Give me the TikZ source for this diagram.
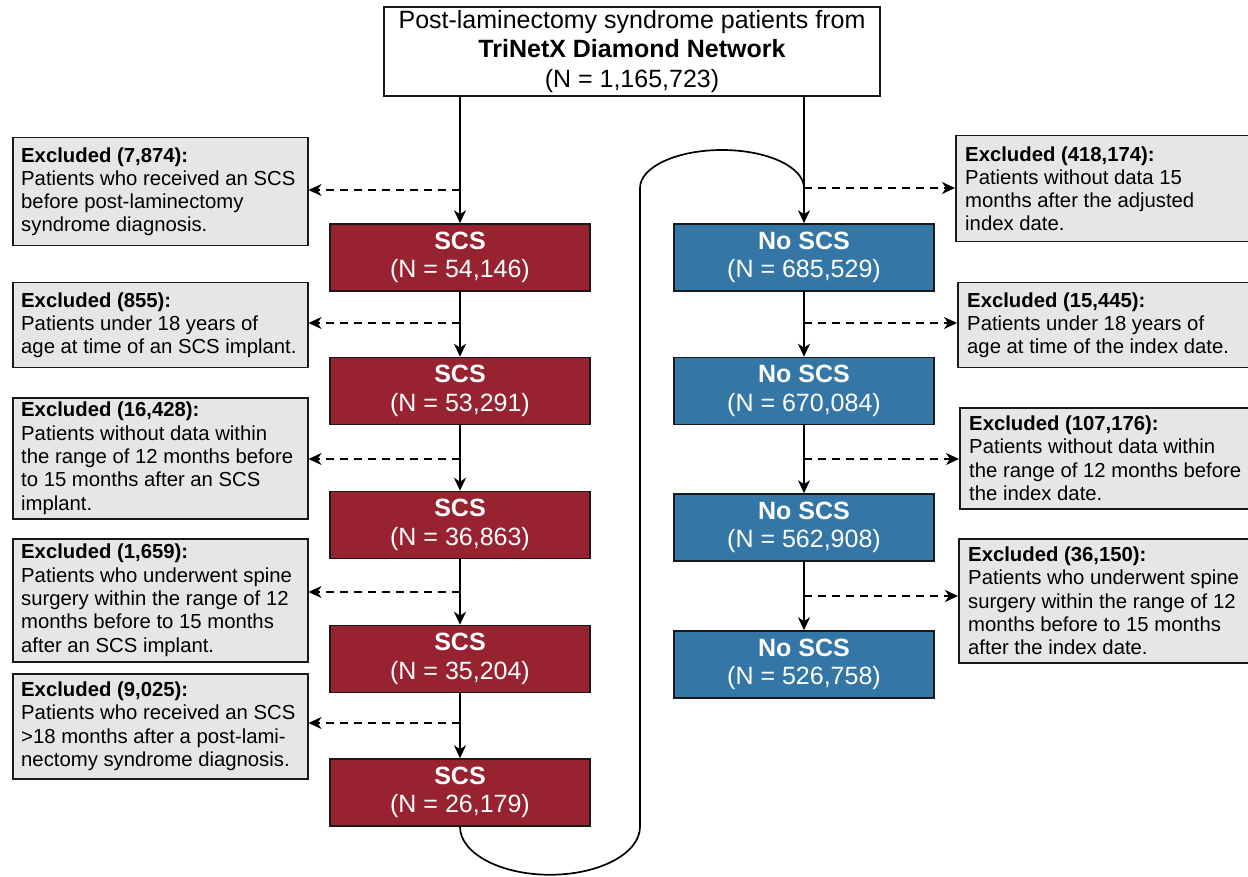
\documentclass[tikz,border=0pt]{standalone}
\usepackage{fontspec}
\setmainfont{Liberation Sans}
\usetikzlibrary{arrows.meta}
\definecolor{scsred}{RGB}{152,35,48}
\definecolor{noblue}{RGB}{52,118,166}
\definecolor{exgray}{RGB}{230,230,230}
\definecolor{bordc}{RGB}{25,25,25}
\begin{document}
\begin{tikzpicture}[x=1pt,y=-1pt,
 topbox/.style={draw=bordc, line width=1.8pt, fill=white, minimum width=496, minimum height=89, inner sep=0, align=center, font=\fontsize{25}{29.5}\selectfont},
 scsbox/.style={draw=bordc, line width=1.5pt, fill=scsred, text=white, minimum width=260, minimum height=67, inner sep=0, align=center, font=\fontsize{25}{28.5}\selectfont},
 nobox/.style={scsbox, fill=noblue},
 exbox/.style={draw=bordc, line width=1.5pt, fill=exgray, inner sep=0, anchor=north west},
 extext/.style={anchor=west, align=left, inner sep=0, font=\fontsize{20.3}{23.3}\selectfont},
 flow/.style={line width=1.7pt, draw=black, -{Stealth[length=13pt,width=12pt,inset=4pt]}},
 dasharrow/.style={line width=1.7pt, draw=black, dash pattern=on 8pt off 6pt, -{Stealth[length=13pt,width=12pt,inset=4pt]}},
 loopline/.style={line width=1.7pt, draw=black}
]
\useasboundingbox (0,0) rectangle (1248,877);

% top box
\node[topbox] (top) at (632,51.5) {Post-laminectomy syndrome patients from\\\textbf{TriNetX Diamond Network}\\(N = 1,165,723)};

% SCS boxes
\node[scsbox] (s1) at (460,257.5) {\textbf{SCS}\\(N = 54,146)};
\node[scsbox] (s2) at (460,391) {\textbf{SCS}\\(N = 53,291)};
\node[scsbox] (s3) at (460,525) {\textbf{SCS}\\(N = 36,863)};
\node[scsbox] (s4) at (460,659) {\textbf{SCS}\\(N = 35,204)};
\node[scsbox] (s5) at (460,792.5) {\textbf{SCS}\\(N = 26,179)};

% No SCS boxes
\node[nobox] (n1) at (804,257.5) {\textbf{No SCS}\\(N = 685,529)};
\node[nobox] (n2) at (804,391) {\textbf{No SCS}\\(N = 670,084)};
\node[nobox] (n3) at (804,527.5) {\textbf{No SCS}\\(N = 562,908)};
\node[nobox] (n4) at (804,664.5) {\textbf{No SCS}\\(N = 526,758)};

% left excluded boxes
\node[exbox, minimum width=295, minimum height=108] (L1) at (12,137) {};
\node[extext] (L1t) at ([xshift=9]L1.west) {\textbf{Excluded (7,874):}\\Patients who received an SCS\\before post-laminectomy\\syndrome diagnosis.};
\node[exbox, minimum width=295, minimum height=85] (L2) at (12,282) {};
\node[extext] (L2t) at ([xshift=9]L2.west) {\textbf{Excluded (855):}\\Patients under 18 years of\\age at time of an SCS implant.};
\node[exbox, minimum width=295, minimum height=121] (L3) at (12,397) {};
\node[extext] (L3t) at ([xshift=9]L3.west) {\textbf{Excluded (16,428):}\\Patients without data within\\the range of 12 months before\\to 15 months after an SCS\\implant.};
\node[exbox, minimum width=295, minimum height=123] (L4) at (12,538) {};
\node[extext] (L4t) at ([xshift=9]L4.west) {\textbf{Excluded (1,659):}\\Patients who underwent spine\\surgery within the range of 12\\months before to 15 months\\after an SCS implant.};
\node[exbox, minimum width=295, minimum height=105] (L5) at (12,673) {};
\node[extext] (L5t) at ([xshift=9]L5.west) {\textbf{Excluded (9,025):}\\Patients who received an SCS\\>18 months after a post-lami-\\nectomy syndrome diagnosis.};

% right excluded boxes
\node[exbox, minimum width=300, minimum height=106] (R1) at (955,135) {};
\node[extext] (R1t) at ([xshift=10]R1.west) {\textbf{Excluded (418,174):}\\Patients without data 15\\months after the adjusted\\index date.};
\node[exbox, minimum width=300, minimum height=85] (R2) at (957,282) {};
\node[extext] (R2t) at ([xshift=10]R2.west) {\textbf{Excluded (15,445):}\\Patients under 18 years of\\age at time of the index date.};
\node[exbox, minimum width=300, minimum height=101] (R3) at (959,407) {};
\node[extext] (R3t) at ([xshift=10]R3.west) {\textbf{Excluded (107,176):}\\Patients without data within\\the range of 12 months before\\the index date.};
\node[exbox, minimum width=300, minimum height=124] (R4) at (958,538) {};
\node[extext] (R4t) at ([xshift=10]R4.west) {\textbf{Excluded (36,150):}\\Patients who underwent spine\\surgery within the range of 12\\months before to 15 months\\after the index date.};

% branch points
\coordinate (bl1) at (460,190);
\coordinate (bl2) at (460,323);
\coordinate (bl3) at (460,459);
\coordinate (bl4) at (460,592);
\coordinate (bl5) at (460,723);
\coordinate (br1) at (804,188);
\coordinate (br2) at (804,323);
\coordinate (br3) at (804,459);
\coordinate (br4) at (804,596);

% loop connector from last SCS box up to the No SCS branch
\draw[loopline] (s5.south) arc[start angle=180,end angle=0,x radius=90,y radius=48]
  -- (640,188) arc[start angle=180,end angle=360,x radius=82,y radius=38];

% main flow arrows
\draw[flow] (top.south -| s1.north) -- (s1.north);
\draw[flow] (s1.south) -- (s2.north);
\draw[flow] (s2.south) -- (s3.north);
\draw[flow] (s3.south) -- (s4.north);
\draw[flow] (s4.south) -- (s5.north);
\draw[flow] (top.south -| n1.north) -- (n1.north);
\draw[flow] (n1.south) -- (n2.north);
\draw[flow] (n2.south) -- (n3.north);
\draw[flow] (n3.south) -- (n4.north);

% exclusion arrows
\draw[dasharrow] (bl1) -- (bl1 -| L1.east);
\draw[dasharrow] (bl2) -- (bl2 -| L2.east);
\draw[dasharrow] (bl3) -- (bl3 -| L3.east);
\draw[dasharrow] (bl4) -- (bl4 -| L4.east);
\draw[dasharrow] (bl5) -- (bl5 -| L5.east);
\draw[dasharrow] (br1) -- (br1 -| R1.west);
\draw[dasharrow] (br2) -- (br2 -| R2.west);
\draw[dasharrow] (br3) -- (br3 -| R3.west);
\draw[dasharrow] (br4) -- (br4 -| R4.west);
\end{tikzpicture}
\end{document}
